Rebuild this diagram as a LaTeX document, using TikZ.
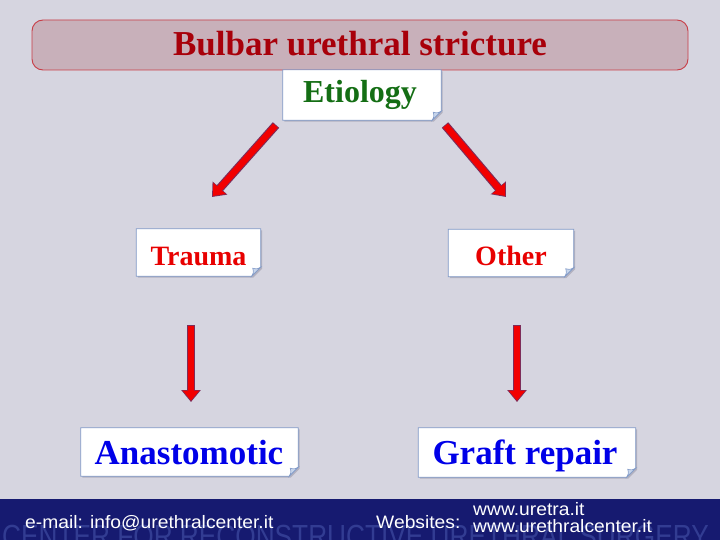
\documentclass[tikz,border=0pt]{standalone}
\usepackage{fontspec}
\setmainfont{Liberation Serif}
\setsansfont{Liberation Sans}
\usetikzlibrary{arrows.meta,calc}
\definecolor{bgcol}{RGB}{214,213,224}
\definecolor{titlefill}{RGB}{200,176,186}
\definecolor{titleline}{RGB}{200,60,70}
\definecolor{titletext}{RGB}{168,0,10}
\definecolor{etgreen}{RGB}{20,110,20}
\definecolor{redtext}{RGB}{232,0,0}
\definecolor{bluetext}{RGB}{0,0,232}
\definecolor{boxline}{RGB}{130,155,200}
\definecolor{foldcol}{RGB}{200,214,236}
\definecolor{shadowcol}{RGB}{178,177,192}
\definecolor{arrred}{RGB}{242,0,0}
\definecolor{arrout}{RGB}{125,45,90}
\definecolor{footcol}{RGB}{22,26,112}
\definecolor{wmcol}{RGB}{50,60,146}
\tikzset{
  boxnode/.style={draw=none,fill=none,inner sep=0pt,rectangle},
  boxedge/.style={draw=boxline,line width=0.8pt},
  lbl/.style={inner sep=0pt,anchor=base,font=\bfseries},
  arrowout/.style={draw=arrout,line width=8.5pt,-{Triangle[length=12pt,width=19pt]}},
  arrowin/.style={draw=arrred,line width=6.3pt,-{Triangle[length=10pt,width=16pt]}},
  foot/.style={inner sep=0pt,anchor=base west,text=white,xscale=1.07,font=\sffamily\fontsize{18}{18}\selectfont},
}
\newcommand\foldbox[5]{%
  \node[boxnode,minimum width=#4pt,minimum height=#5pt] (#1) at (#2,#3) {};
  \fill[shadowcol] ($(#1.north west)+(1.5,1.5)$) -- ($(#1.north east)+(1.5,1.5)$) -- ($(#1.south east)+(1.5,-7.5)$) -- ($(#1.south east)+(-7.5,1.5)$) -- ($(#1.south west)+(1.5,1.5)$) -- cycle;
  \filldraw[fill=white,boxedge] (#1.north west) -- (#1.north east) -- ($(#1.south east)+(0,-9)$) -- ($(#1.south east)+(-9,0)$) -- (#1.south west) -- cycle;
  \filldraw[fill=foldcol,draw=boxline,line width=0.6pt] ($(#1.south east)+(0,-9)$) .. controls ($(#1.south east)+(-4,-7)$) .. ($(#1.south east)+(-8,-8)$) .. controls ($(#1.south east)+(-7,-4)$) .. ($(#1.south east)+(-9,0)$) -- cycle;
}
\begin{document}
\begin{tikzpicture}[x=1pt,y=-1pt]
\useasboundingbox (0,0) rectangle (720,540);
\fill[bgcol] (0,0) rectangle (720,540);
% title
\node[draw=titleline,line width=0.9pt,fill=titlefill,rounded corners=11pt,minimum width=656pt,minimum height=50pt,inner sep=0pt] (title) at (360,45) {};
\node[lbl,text=titletext,font=\bfseries\fontsize{35}{35}\selectfont] (title-t) at (360,56) {Bulbar urethral stricture};
% boxes
\foldbox{etiology}{362}{95}{158}{50}
\node[lbl,text=etgreen,font=\bfseries\fontsize{32}{32}\selectfont] (etiology-t) at (360,103) {Etiology};
\foldbox{trauma}{198.5}{252.5}{124}{47}
\node[lbl,text=redtext,font=\bfseries\fontsize{28}{28}\selectfont] (trauma-t) at (198.5,265) {Trauma};
\foldbox{other}{511}{253}{125}{47}
\node[lbl,text=redtext,font=\bfseries\fontsize{28}{28}\selectfont] (other-t) at (511,265.5) {Other};
\foldbox{anast}{189.5}{452}{217}{48}
\node[lbl,text=bluetext,font=\bfseries\fontsize{35}{35}\selectfont] (anast-t) at (189,464) {Anastomotic};
\foldbox{graft}{527}{452.5}{217}{49}
\node[lbl,text=bluetext,font=\bfseries\fontsize{35}{35}\selectfont] (graft-t) at (525,464.5) {Graft repair};
% arrows
\coordinate (a1s) at (276,125); \coordinate (a1e) at (212,197);
\coordinate (a2s) at (445,125); \coordinate (a2e) at (506,197);
\coordinate (a3s) at (191,325); \coordinate (a3e) at (191,402);
\coordinate (a4s) at (517,325); \coordinate (a4e) at (517,402);
\foreach \s/\e in {a1s/a1e,a2s/a2e,a3s/a3e,a4s/a4e}{
  \draw[arrowout] (\s) -- (\e);
  \draw[arrowin] ($(\s)!0.8pt!(\e)$) -- ($(\e)!1.4pt!(\s)$);
}
% footer
\fill[footcol] (0,499) rectangle (720,540);
\begin{scope}
\clip (0,499) rectangle (720,540);
\node[inner sep=0pt,anchor=base west,text=wmcol,xscale=0.82,font=\sffamily\fontsize{32}{32}\selectfont] (wm) at (2,547) {CENTER FOR RECONSTRUCTIVE URETHRAL SURGERY};
\end{scope}
\node[foot] (email) at (25,528) {e-mail: info@urethralcenter.it};
\node[foot] (web) at (376,528) {Websites:};
\node[foot] (web1) at (473,515) {www.uretra.it};
\node[foot] (web2) at (473,532) {www.urethralcenter.it};
\end{tikzpicture}
\end{document}
